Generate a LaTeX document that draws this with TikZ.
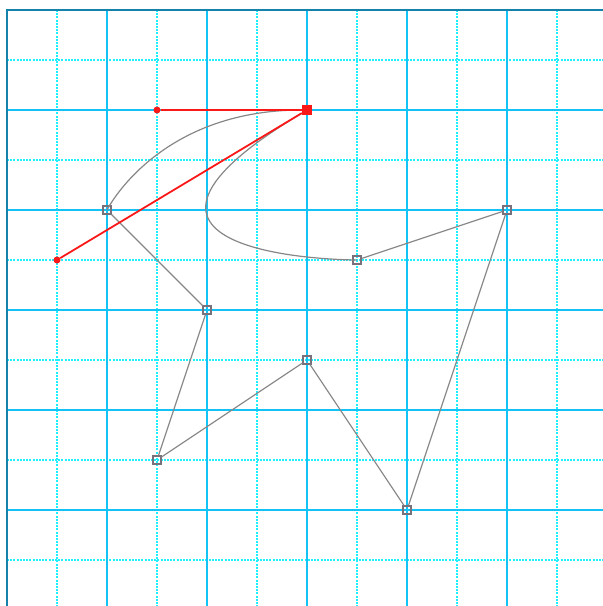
\documentclass[tikz,border=0pt]{standalone}
\usetikzlibrary{positioning}

\definecolor{gridmajor}{RGB}{20,195,245}
\definecolor{gridminor}{RGB}{30,240,255}
\definecolor{gridedge}{RGB}{20,130,170}
\definecolor{handlered}{RGB}{250,25,25}
\definecolor{pathgray}{RGB}{135,135,135}
\definecolor{vertexgray}{RGB}{120,112,122}

\begin{document}
\begin{tikzpicture}[
	x=50pt,
	y=-50pt,
	majorline/.style={draw=gridmajor, line width=1.8pt},
	minorline/.style={draw=gridminor, line width=1.4pt, dash pattern=on 2pt off 1.2pt},
	edgeline/.style={draw=gridedge, line width=2pt},
	outline/.style={draw=pathgray, line width=1.2pt},
	handleline/.style={draw=handlered, line width=1.8pt},
	vertex/.style={
		draw=vertexgray,
		rectangle,
		line width=1.1pt,
		minimum size=8pt,
		inner sep=0pt
	},
	selected/.style={
		fill=handlered,
		rectangle,
		minimum size=10pt,
		inner sep=0pt
	},
	handle/.style={
		fill=handlered,
		circle,
		minimum size=7pt,
		inner sep=0pt
	}
	]
	
	\useasboundingbox (-0.14,-0.2) rectangle (11.92,11.92);
	
	% grid
	\foreach \k in {1,3,...,11} {
		\draw[minorline] (\k,0) -- (\k,11.92);
		\draw[minorline] (0,\k) -- (11.92,\k);
	}
	\foreach \k in {2,4,...,10} {
		\draw[majorline] (\k,0) -- (\k,11.92);
		\draw[majorline] (0,\k) -- (11.92,\k);
	}
	\draw[edgeline] (0,11.92) -- (0,0) -- (11.92,0);
	
	% points of the shape
	\node[vertex] (ptA) at (2,4) {};
	\node[selected] (ptB) at (6,2) {};
	\node[vertex] (ptC) at (7,5) {};
	\node[vertex] (ptD) at (10,4) {};
	\node[vertex] (ptE) at (8,10) {};
	\node[vertex] (ptF) at (6,7) {};
	\node[vertex] (ptG) at (3,9) {};
	\node[vertex] (ptH) at (4,6) {};
	
	% handles of the selected point
	\node[handle] (inHandle) at (3,2) {};
	\node[handle] (outHandle) at (1,5) {};
	
	\draw[outline] (ptA) .. controls (ptA.center) and (inHandle.center) .. (ptB);
	\draw[outline] (ptB) .. controls (outHandle.center) and (ptC.center) .. (ptC);
	\draw[outline] (ptC) -- (ptD) -- (ptE) -- (ptF) -- (ptG) -- (ptH) -- (ptA);
	
	\draw[handleline] (inHandle) -- (ptB);
	\draw[handleline] (outHandle) -- (ptB);
	
\end{tikzpicture}
\end{document}
